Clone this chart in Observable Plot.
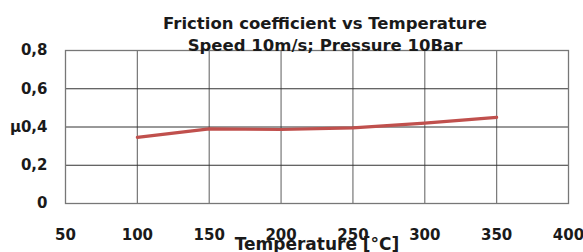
<!DOCTYPE html>
<html><head><meta charset="utf-8">
<script src="https://cdn.jsdelivr.net/npm/d3@7"></script>
<script src="https://cdn.jsdelivr.net/npm/@observablehq/plot@0.6"></script>
<style>body{margin:0;background:#fff}</style>
</head><body><div id="chart"></div>
<script>
const temperature = [100, 150, 200, 250, 300, 350];
const friction = [0.346, 0.39, 0.387, 0.395, 0.42, 0.45];
const xTicks = [50, 100, 150, 200, 250, 300, 350, 400];
const yTicks = [0, 0.2, 0.4, 0.6, 0.8];
const title1 = "Friction coefficient vs Temperature";
const title2 = "Speed 10m/s; Pressure 10Bar";
const xLabel = "Temperature [°C]";
const yLabel = "µ";

const data = temperature.map((t, i) => ({t, f: friction[i]}));
const font = "DejaVu Sans, sans-serif";
const fmtY = d => (Math.abs(d - 0.4) < 1e-9 ? yLabel : "") + (d === 0 ? "0" : String(d).replace(".", ","));

const chart = Plot.plot({
  width: 583, height: 252,
  marginLeft: 65, marginRight: 15, marginTop: 50, marginBottom: 49,
  style: {fontFamily: font, fontSize: "15px", fontWeight: "bold", color: "#1a1a1a", background: "#fff"},
  x: {domain: [50, 400], ticks: xTicks},
  y: {domain: [0, 0.8], ticks: yTicks},
  marks: [
    Plot.gridX(xTicks.slice(1, -1), {stroke: "#777", strokeOpacity: 1, strokeWidth: 1.2}),
    Plot.gridY(yTicks.slice(1, -1), {stroke: "#333", strokeOpacity: 1, strokeWidth: 1}),
    Plot.frame({stroke: "#777", strokeWidth: 1.3}),
    Plot.axisX({ticks: xTicks, tickSize: 0, tickPadding: 26, tickFormat: d => String(d), label: null, fontSize: 15, fontWeight: "bold"}),
    Plot.axisY({ticks: yTicks, tickSize: 0, tickPadding: 18, tickFormat: fmtY, label: null, fontSize: 15, fontWeight: "bold"}),
    Plot.line(data, {x: "t", y: "f", stroke: "#c0504d", strokeWidth: 3.2}),
    Plot.text([title1], {frameAnchor: "top", dx: 8, dy: -33.5, text: d => d, fontSize: 16.5, fontWeight: "bold"}),
    Plot.text([title2], {frameAnchor: "top", dx: 8, dy: -11.5, text: d => d, fontSize: 16.5, fontWeight: "bold"}),
    Plot.text([xLabel], {frameAnchor: "bottom", dx: 0, dy: 46, text: d => d, fontSize: 17, fontWeight: "bold"})
  ]
});
document.getElementById("chart").appendChild(chart);
</script></body></html>
